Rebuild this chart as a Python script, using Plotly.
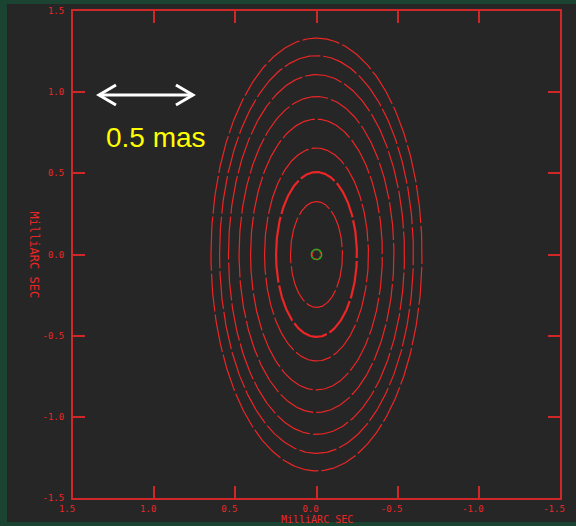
import numpy as np
import plotly.graph_objects as go

# Contour levels: semi-axes (mas) of each closed contour, outermost first
semi_x = [0.650, 0.597, 0.542, 0.477, 0.406, 0.320, 0.249, 0.160]
semi_y = [1.333, 1.225, 1.108, 0.973, 0.834, 0.656, 0.508, 0.326]
line_w = [1.2, 1.2, 1.2, 1.2, 1.2, 1.2, 2.2, 1.2]
center = (0.0, 0.0)

# Compact core component at the phase centre
core_r = 0.032

# Axis ticks
tick_vals = [1.5, 1.0, 0.5, 0.0, -0.5, -1.0, -1.5]
tick_text = ["1.5", "1.0", "0.5", "0.0", "-0.5", "-1.0", "-1.5"]

# Scale bar
bar_x = [1.34, 0.761]
bar_y = 0.983
bar_label = "0.5 mas"

RED = "#ec2626"
FRAME = "#d02828"
BG = "#262626"
GREEN_EDGE = "#1b4332"

fig = go.Figure()
t = np.linspace(0, 2 * np.pi, 400)
for a, b, w in zip(semi_x, semi_y, line_w):
    fig.add_trace(go.Scatter(
        x=center[0] + a * np.cos(t), y=center[1] + b * np.sin(t),
        mode="lines", line=dict(color=RED, width=w, dash="38px,3px"),
        hoverinfo="skip", showlegend=False))

fig.add_trace(go.Scatter(
    x=center[0] + core_r * np.cos(t), y=center[1] + core_r * np.sin(t),
    mode="lines", line=dict(color="#22b022", width=1.5),
    hoverinfo="skip", showlegend=False))
fig.add_trace(go.Scatter(
    x=center[0] + 0.8 * core_r * np.cos(t), y=center[1] + 0.9 * core_r * np.sin(t),
    mode="lines", line=dict(color=RED, width=1, dash="3px,2px"),
    hoverinfo="skip", showlegend=False))

# double-headed scale arrow
px = 3.0 / 487.0  # data units per pixel
head_dx, head_dy = 17 * px, 10 * px
x0, x1 = bar_x
fig.add_trace(go.Scatter(x=[x0, x1], y=[bar_y, bar_y], mode="lines",
                         line=dict(color="white", width=3),
                         hoverinfo="skip", showlegend=False))
fig.add_trace(go.Scatter(
    x=[x0 - head_dx, x0, x0 - head_dx, None, x1 + head_dx, x1, x1 + head_dx],
    y=[bar_y + head_dy, bar_y, bar_y - head_dy, None, bar_y + head_dy, bar_y, bar_y - head_dy],
    mode="lines", line=dict(color="white", width=3),
    hoverinfo="skip", showlegend=False))

fig.add_annotation(x=x0 - 5 * px, y=bar_y - 43 * px, xref="x", yref="y",
                   text=bar_label, showarrow=False, xanchor="left", yanchor="middle",
                   font=dict(family="Liberation Sans, Arial", size=28, color="#ffff00"))

axis_common = dict(
    tickvals=tick_vals, ticktext=tick_text,
    ticks="inside", ticklen=12, tickwidth=1.5, tickcolor=FRAME,
    showline=True, linecolor=FRAME, linewidth=2, mirror="ticks",
    showgrid=False, zeroline=False, automargin=False,
    tickfont=dict(family="DejaVu Sans Mono", size=9, color=RED),
)
fig.update_xaxes(range=[1.5, -1.5], ticklabelshift=6, ticklabelstandoff=1, **axis_common)
fig.update_yaxes(range=[-1.5, 1.5], ticklabelstandoff=5, **axis_common)

fig.add_annotation(x=0.5, y=-0.0445, xref="paper", yref="paper", text="MilliARC SEC",
                   showarrow=False, xanchor="center", yanchor="middle",
                   font=dict(family="DejaVu Sans Mono", size=10, color=RED))
fig.add_annotation(x=-0.080, y=0.5, xref="paper", yref="paper", text="MilliARC SEC",
                   showarrow=False, xanchor="center", yanchor="middle", textangle=90,
                   font=dict(family="DejaVu Sans Mono", size=12, color=RED))

# dark slide panel on a green backdrop
fig.add_shape(type="rect", xref="paper", yref="paper", layer="below",
              x0=-0.1355, x1=1.12, y0=-0.0493, y1=1.0144,
              fillcolor=BG, line=dict(width=0))

fig.update_layout(
    width=576, height=526,
    margin=dict(l=73, r=16, t=11, b=28, autoexpand=False),
    paper_bgcolor=GREEN_EDGE, plot_bgcolor=BG,
    showlegend=False,
)

fig.write_html("out.html")
